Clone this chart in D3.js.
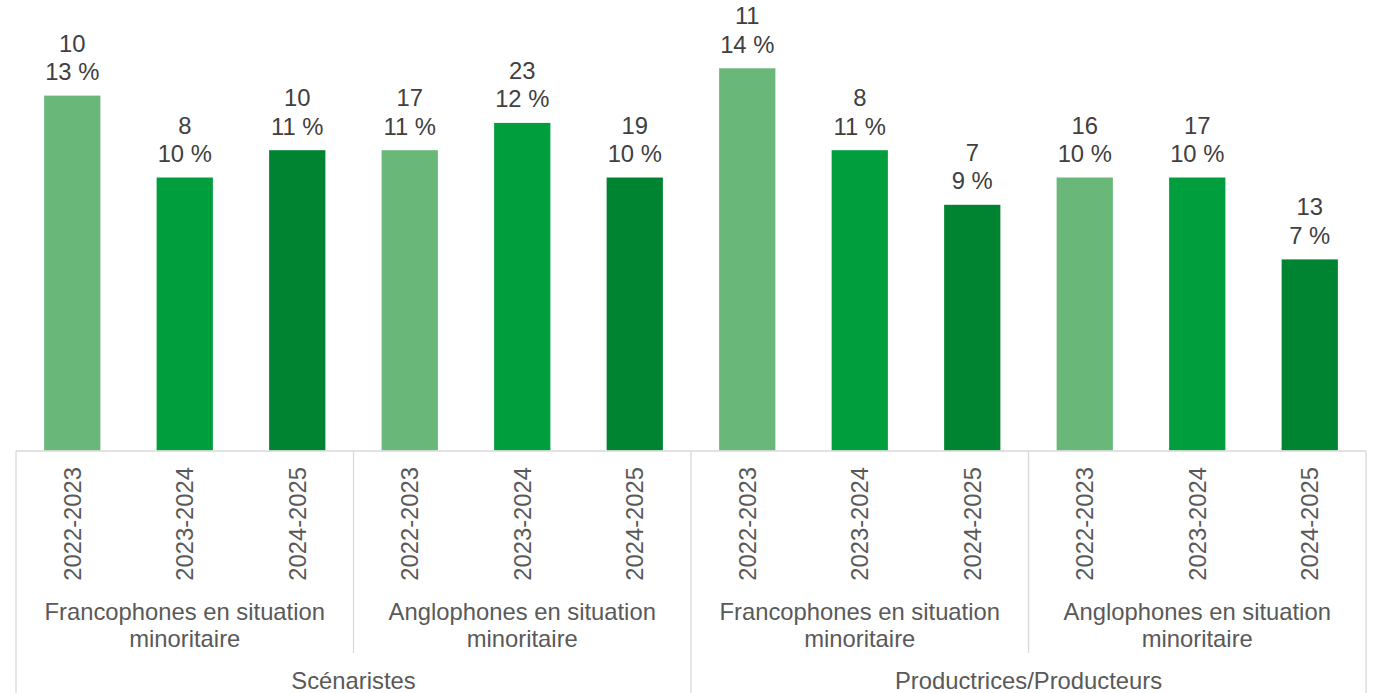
<!DOCTYPE html>
<html><head><meta charset="utf-8">
<script src="https://cdn.jsdelivr.net/npm/d3@7"></script>
<style>body{margin:0;background:#fff}svg{display:block}</style>
</head><body><svg id="c" width="1373" height="693"></svg>
<script>
const roles = ["Scénaristes", "Productrices/Producteurs"];
const groups = ["Francophones en situation|minoritaire", "Anglophones en situation|minoritaire"];
const years = ["2022-2023", "2023-2024", "2024-2025"];
const counts = [10, 8, 10, 17, 23, 19, 11, 8, 7, 16, 17, 13];
const percents = [13, 10, 11, 11, 12, 10, 14, 11, 9, 10, 10, 7];
const colors = ["#69B87A", "#009E3D", "#008432"];

const svg = d3.select("#c");
const font = "'Liberation Sans', Arial, sans-serif";
const fs = 23.8;
const cats = [];
roles.forEach((r, ri) => groups.forEach((g, gi) => years.forEach((y, yi) => cats.push({r, g, y, ri, gi, yi, i: cats.length}))));
const x = d3.scaleBand().domain(cats.map(d => d.i)).range([16, 1366]).paddingInner(0.5).paddingOuter(0.25);
const y = d3.scaleLinear().domain([0, 10]).range([450.5, 177.5]);

// bars
svg.selectAll("rect.bar").data(cats).join("rect")
  .attr("x", d => x(d.i)).attr("width", x.bandwidth())
  .attr("y", d => y(percents[d.i])).attr("height", d => y(0) - y(percents[d.i]))
  .attr("fill", d => colors[d.yi]);

// labels
const lab = svg.append("g").attr("font-family", font).attr("font-size", fs).attr("fill", "#404040").attr("text-anchor", "middle");
cats.forEach(d => {
  const cx = x(d.i) + x.bandwidth() / 2, top = y(percents[d.i]);
  lab.append("text").attr("x", cx).attr("y", top - 15.5).text(percents[d.i] + " %");
  lab.append("text").attr("x", cx).attr("y", top - 44).text(counts[d.i]);
});

// axis lines
const ax = svg.append("g").attr("stroke", "#D9D9D9").attr("stroke-width", 1.3);
const x0 = 16, x1 = 1366;
ax.append("line").attr("x1", x0).attr("x2", x1).attr("y1", 451).attr("y2", 451);
const gw = (x1 - x0) / 4;
for (let k = 0; k <= 4; k++) {
  const xx = x0 + k * gw;
  ax.append("line").attr("x1", xx).attr("x2", xx).attr("y1", 451).attr("y2", k % 2 === 0 ? 693 : 653);
}

// year labels
const al = svg.append("g").attr("font-family", font).attr("font-size", fs).attr("fill", "#595959");
cats.forEach(d => {
  const cx = x(d.i) + x.bandwidth() / 2;
  al.append("text").attr("transform", `translate(${cx},467) rotate(-90)`)
    .attr("text-anchor", "end").attr("dy", "0.35em").text(d.y);
});
// group labels
for (let k = 0; k < 4; k++) {
  const g = groups[k % 2].split("|");
  const cx = x0 + (k + 0.5) * gw;
  g.forEach((t, li) => al.append("text").attr("x", cx).attr("y", 620 + li * 27).attr("text-anchor", "middle").text(t));
}
roles.forEach((r, ri) => {
  al.append("text").attr("x", x0 + (ri + 0.5) * 2 * gw).attr("y", 689).attr("text-anchor", "middle").text(r);
});
</script></body></html>
